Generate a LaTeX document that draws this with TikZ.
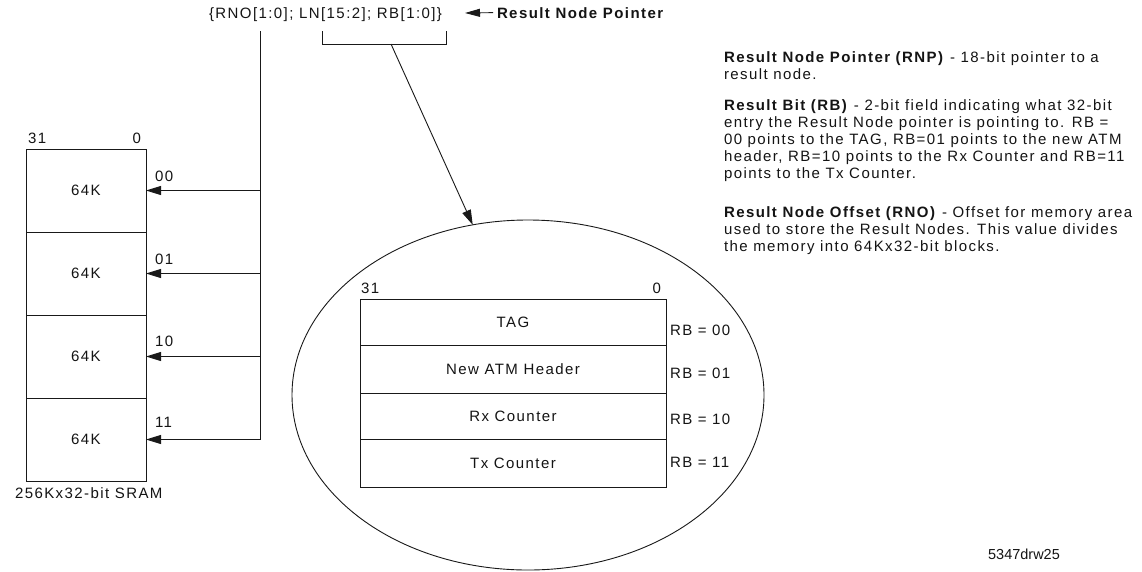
\documentclass[tikz,border=0pt]{standalone}
\usepackage{fontspec}
\setmainfont{Liberation Sans}[LetterSpace=9.5]
\newfontfamily\plainf{Liberation Sans}
\usetikzlibrary{arrows.meta,shapes.geometric}
\begin{document}
\begin{tikzpicture}[x=1pt,y=-1pt,
  every node/.style={inner sep=0pt,outer sep=0pt,font=\fontsize{15}{17}\selectfont,text=black!92},
  ln/.style={line width=0.9pt,draw=black!90},
  tip/.style={-{Triangle[length=15pt,width=9pt]}},
  blk/.style={ln,draw,anchor=north west,minimum width=120pt,minimum height=83pt},
  rowa/.style={ln,draw,anchor=north west,minimum width=306pt,minimum height=46pt},
  rowb/.style={ln,draw,anchor=north west,minimum width=306pt,minimum height=48pt},
  lbl/.style={anchor=base west},
  txt/.style={anchor=base west}
]
\path[use as bounding box,fill=white] (0,0) rectangle (1142,571);

% top pointer label
\node[lbl] (ptr) at (209,18) {\{RNO[1:0]; LN[15:2]; RB[1:0]\}};
\node[lbl,font=\fontsize{15}{17}\selectfont\bfseries] (rnp) at (497,18) {Result Node Pointer};
\coordinate (rpt) at (465,13);
\draw[ln,-{Triangle[length=15pt,width=8pt]}] ([xshift=-4pt]rnp.west) -- (rpt);

% bracket under LN / RB
\coordinate (bl) at (322,31);
\coordinate (br) at (446,31);
\coordinate (bm) at (391,44);
\draw[ln] (bl) -- (bl |- bm) -- (br |- bm) -- (br);

% SRAM
\node[lbl] (h31) at (28,143) {31};
\node[anchor=base east] (h0) at (141,143) {0};
\node[blk] (s1) at (26,149) {64K};
\node[blk] (s2) at (26,232) {64K};
\node[blk] (s3) at (26,315) {64K};
\node[blk] (s4) at (26,398) {64K};
\node[lbl] (sram) at (15,498) {256Kx32-bit SRAM};

% bus from RNO
\coordinate (bus) at (260,31);
\draw[ln] (bus) -- (bus |- s4.east);
\draw[ln,tip] (bus |- s1.east) -- (s1.east);
\draw[ln,tip] (bus |- s2.east) -- (s2.east);
\draw[ln,tip] (bus |- s3.east) -- (s3.east);
\draw[ln,tip] (bus |- s4.east) -- (s4.east);
\node[lbl] (a00) at (155,181) {00};
\node[lbl] (a01) at (155,264) {01};
\node[lbl] (a10) at (155,346) {10};
\node[lbl] (a11) at (155,427) {11};

% result node ellipse
\node[ln,draw,ellipse,minimum width=472pt,minimum height=350pt] (circ) at (528,395) {};
\draw[ln,tip] (bm) -- (circ.108);

% result node table
\node[lbl] (t31) at (361,293) {31};
\node[anchor=base east] (t0) at (661,293) {0};
\node[rowa] (r1) at (360,299) {TAG};
\node[rowb] (r2) at (360,345) {New ATM Header};
\node[rowa] (r3) at (360,393) {Rx Counter};
\node[rowb] (r4) at (360,439) {Tx Counter};
\node[lbl] (rb0) at (670,335) {RB = 00};
\node[lbl] (rb1) at (670,378) {RB = 01};
\node[lbl] (rb2) at (670,424) {RB = 10};
\node[lbl] (rb3) at (670,467) {RB = 11};

% description text
\node[txt] (d1) at (724,62) {\textbf{Result Node Pointer (RNP)} - 18-bit pointer to a};
\node[txt] (d2) at (724,79) {result node.};
\node[txt] (d3) at (724,110) {\textbf{Result Bit (RB)} - 2-bit field indicating what 32-bit};
\node[txt] (d4) at (724,127) {entry the Result Node pointer is pointing to. RB =};
\node[txt] (d5) at (724,144) {00 points to the TAG, RB=01 points to the new ATM};
\node[txt] (d6) at (724,161) {header, RB=10 points to the Rx Counter and RB=11};
\node[txt] (d7) at (724,178) {points to the Tx Counter.};
\node[txt] (d8) at (724,217) {\textbf{Result Node Offset (RNO)} - Offset for memory area};
\node[txt] (d9) at (724,234) {used to store the Result Nodes. This value divides};
\node[txt] (d10) at (724,251) {the memory into 64Kx32-bit blocks.};

\node[anchor=base,font=\fontsize{14.5}{17}\plainf] (fig) at (1024,559) {5347drw25};
\end{tikzpicture}
\end{document}
